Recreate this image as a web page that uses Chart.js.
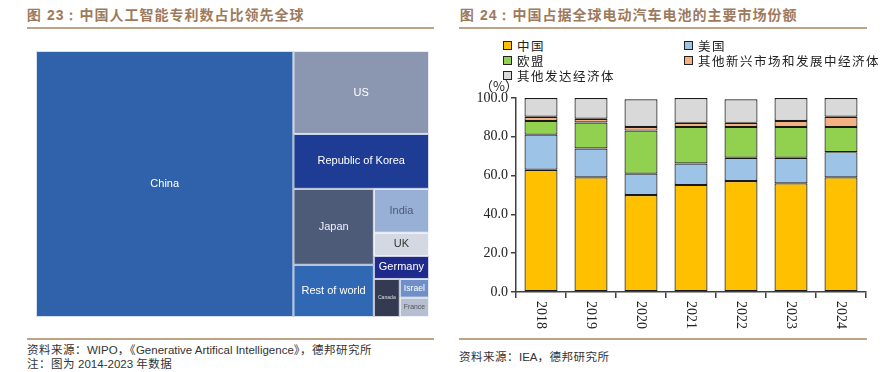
<!DOCTYPE html>
<html>
<head>
<meta charset="utf-8">
<script src="https://cdn.jsdelivr.net/npm/chart.js@4"></script>
<style>
  body { margin: 0; background: #fff; width: 892px; height: 372px; position: relative; overflow: hidden; font-family: "Noto Sans CJK SC", sans-serif; }
  .title { position: absolute; top: 4px; font-size: 14px; font-weight: 700; color: #9d7a5c; letter-spacing: 1px; white-space: nowrap; }
  .rule { position: absolute; height: 2px; background: #bfa387; }
  .note { position: absolute; font-size: 11.5px; color: #333; white-space: nowrap; letter-spacing: .5px; }
  .note b { font-family: "Liberation Sans", Arial, sans-serif; font-weight: 400; letter-spacing: 0; }
  .legend { position: absolute; font-size: 12.5px; color: #222; letter-spacing: 1.5px; white-space: nowrap; }
  .legend span.box { display: inline-block; width: 7px; height: 7px; border: 1px solid #222; margin-right: 5px; vertical-align: 1px; }
  canvas { position: absolute; }
</style>
</head>
<body>
<div class="title" style="left:27px"><span style="font-family:'Liberation Sans',Arial">图 23：</span>中国人工智能专利数占比领先全球</div>
<div class="rule" style="left:27px;width:407px;top:27px"></div>
<div class="title" style="left:460px"><span style="font-family:'Liberation Sans',Arial">图 24：</span>中国占据全球电动汽车电池的主要市场份额</div>
<div class="rule" style="left:459px;width:408px;top:27px"></div>

<canvas id="chart-tree" style="left:0;top:40px" width="446" height="290"></canvas>
<canvas id="chart-bar" style="left:446px;top:80px" width="446" height="252"></canvas>

<div id="bar-legend"></div>
<div class="legend" style="left:480px;top:76px;font-size:13px;letter-spacing:0">（%）</div>

<div class="rule" style="left:27px;width:407px;top:338px"></div>
<div class="note" style="left:27px;top:341px">资料来源：<b>WIPO</b>，《<b>Generative Artifical Intelligence</b>》，德邦研究所</div>
<div class="note" style="left:27px;top:355px">注：图为 <b>2014-2023</b> 年数据</div>
<div class="rule" style="left:459px;width:408px;top:338px"></div>
<div class="note" style="left:459px;top:348px">资料来源：<b>IEA</b>，德邦研究所</div>

<script>
// 图23 数据（件，估读）
const treeNames = ['China', 'US', 'Republic of Korea', 'Japan', 'Rest of world', 'India', 'UK', 'Germany', 'Canada', 'Israel', 'France'];
const treeValues = [38210, 6276, 4155, 3409, 2344, 1350, 714, 708, 550, 305, 315];
const treeColors = ['#3062ab', '#8b97b1', '#1f3c94', '#4e5b78', '#3068b4', '#99b0d6', '#d4d8e3', '#1f2b8c', '#343a52', '#6f8fc9', '#b6bed1'];
const treeTextColors = ['#fff', '#fff', '#fff', '#eef', '#fff', '#4b5a78', '#333', '#fff', '#ddd', '#fff', '#555'];
// h = 左右排列, v = 上下排列
const treeLayout = ['h', 0, ['v', 1, 2, ['h', ['v', 3, 4], ['v', 5, 6, 7, ['h', 8, ['v', 9, 10]]]]]];

// 图24 数据（%，估读）
const years = ['2018', '2019', '2020', '2021', '2022', '2023', '2024'];
const seriesNames = ['中国', '美国', '欧盟', '其他新兴市场和发展中经济体', '其他发达经济体'];
const china = [63.0, 59.1, 50.0, 55.2, 57.2, 56.0, 59.1];
const usa = [18.1, 14.9, 11.0, 11.0, 12.0, 13.2, 13.0];
const eu = [7.1, 13.4, 22.2, 18.9, 15.9, 15.9, 13.0];
const emerging = [2.1, 1.9, 1.9, 2.1, 2.1, 3.1, 5.2];
const otherDev = [9.7, 10.7, 14.2, 12.8, 12.1, 11.8, 9.7];
const yTicks = [0, 20, 40, 60, 80, 100];
const barColors = ['#ffc000', '#9dc3e6', '#92d050', '#f4b183', '#d9d9d9'];

function sumOf(node) {
  return typeof node === 'number' ? treeValues[node] : node.slice(1).reduce((s, n) => s + sumOf(n), 0);
}

function layoutTree(node, x, y, w, h, out) {
  if (typeof node === 'number') { out.push({ i: node, x, y, w, h }); return out; }
  const total = sumOf(node);
  let pos = 0;
  node.slice(1).forEach(child => {
    const f = sumOf(child) / total;
    if (node[0] === 'h') layoutTree(child, x + pos * w, y, w * f, h, out);
    else layoutTree(child, x, y + pos * h, w, h * f, out);
    pos += f;
  });
  return out;
}

const cells = layoutTree(treeLayout, 0, 0, 1, 1, []);

const treemapPlugin = {
  id: 'treemap',
  beforeDatasetsDraw(chart) {
    const { ctx, scales: { x, y } } = chart;
    ctx.save();
    cells.forEach(c => {
      const x0 = x.getPixelForValue(c.x), x1 = x.getPixelForValue(c.x + c.w);
      const y0 = y.getPixelForValue(c.y), y1 = y.getPixelForValue(c.y + c.h);
      ctx.fillStyle = treeColors[c.i];
      ctx.fillRect(x0, y0, x1 - x0, y1 - y0);
      ctx.strokeStyle = 'rgba(255,255,255,0.8)';
      ctx.lineWidth = 1;
      ctx.strokeRect(x0 + 0.5, y0 + 0.5, x1 - x0 - 1, y1 - y0 - 1);

      const label = treeNames[c.i];
      ctx.font = '11px "Liberation Sans", Arial, sans-serif';
      const tw = ctx.measureText(label).width;
      const size = Math.min(11, 11 * (x1 - x0 - 8) / tw);
      ctx.font = `${size}px "Liberation Sans", Arial, sans-serif`;
      ctx.fillStyle = treeTextColors[c.i];
      ctx.textAlign = 'center';
      ctx.textBaseline = 'middle';
      ctx.fillText(label, (x0 + x1) / 2, (y0 + y1) / 2);
    });
    ctx.restore();
  },
};

new Chart(document.getElementById('chart-tree'), {
  type: 'scatter',
  data: { datasets: [{ data: [] }] },
  options: {
    responsive: false,
    animation: false,
    layout: { padding: { left: 36, right: 17, top: 11, bottom: 13 } },
    plugins: { legend: { display: false }, tooltip: { enabled: false } },
    scales: {
      x: { display: false, min: 0, max: 1 },
      y: { display: false, min: 0, max: 1, reverse: true },
    },
  },
  plugins: [treemapPlugin],
});

// legend (two columns like the source)
const legendPos = [[503, 36], [684, 36], [503, 51], [684, 51], [503, 66]];
document.getElementById('bar-legend').innerHTML = seriesNames.map((n, i) =>
  `<div class="legend" style="left:${legendPos[i][0]}px;top:${legendPos[i][1]}px"><span class="box" style="background:${barColors[i]}"></span>${n}</div>`
).join('');

const xLabelPlugin = {
  id: 'xlabels',
  afterDraw(chart) {
    const { ctx, scales: { x } } = chart;
    ctx.save();
    ctx.font = '14px "Liberation Serif", "Times New Roman", serif';
    ctx.fillStyle = '#222';
    ctx.textAlign = 'left';
    ctx.textBaseline = 'middle';
    years.forEach((yr, i) => {
      ctx.save();
      ctx.translate(x.getPixelForValue(i), x.top + 9);
      ctx.rotate(Math.PI / 2);
      ctx.fillText(yr, 0, 0);
      ctx.restore();
    });
    ctx.restore();
  },
};

const seriesData = [china, usa, eu, emerging, otherDev];

new Chart(document.getElementById('chart-bar'), {
  type: 'bar',
  data: {
    labels: years,
    datasets: seriesData.map((d, i) => ({
      label: seriesNames[i],
      data: d,
      backgroundColor: barColors[i],
      borderColor: '#1a1a1a',
      borderWidth: 1.2,
      borderSkipped: false,
      categoryPercentage: 1,
      barPercentage: 0.66,
    })),
  },
  options: {
    responsive: false,
    animation: false,
    layout: { padding: { left: 0, right: 26, top: 18, bottom: 0 } },
    plugins: { legend: { display: false }, tooltip: { enabled: false } },
    scales: {
      x: {
        stacked: true,
        afterFit: s => { s.height = 40; },
        ticks: { display: false },
        grid: { display: true, drawOnChartArea: false, tickLength: 6, color: '#404040', lineWidth: 1.5, offset: true },
        border: { color: '#404040', width: 1.5 },
      },
      y: {
        stacked: true,
        min: 0,
        max: 100,
        afterFit: s => { s.width = 70; },
        afterBuildTicks: s => { s.ticks = yTicks.map(v => ({ value: v })); },
        ticks: {
          callback: v => Number(v).toFixed(1),
          color: '#222',
          padding: 3,
          font: { family: '"Liberation Serif", "Times New Roman", serif', size: 14 },
        },
        grid: { display: true, drawOnChartArea: false, tickLength: 5, color: '#404040', lineWidth: 1.5 },
        border: { color: '#404040', width: 1.5 },
      },
    },
  },
  plugins: [xLabelPlugin],
});
</script>
</body>
</html>
